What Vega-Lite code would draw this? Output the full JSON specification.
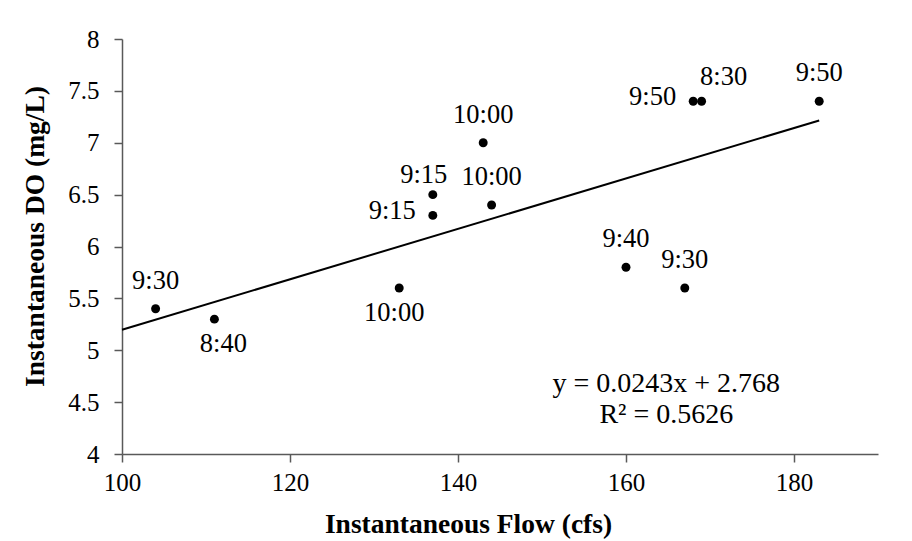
{
  "$schema": "https://vega.github.io/schema/vega-lite/v6.json",
  "width": 756,
  "height": 415,
  "autosize": {"type": "none"},
  "padding": {"left": 122, "top": 39, "right": 34, "bottom": 87},
  "background": "white",
  "config": {"view": {"stroke": null}, "font": "Liberation Serif"},
  "datasets": {
    "obs": [
      {"flow": 104, "oxygen": 5.4, "label": "9:30"},
      {"flow": 111, "oxygen": 5.3, "label": "8:40"},
      {"flow": 133, "oxygen": 5.6, "label": "10:00"},
      {"flow": 137, "oxygen": 6.5, "label": "9:15"},
      {"flow": 137, "oxygen": 6.3, "label": "9:15"},
      {"flow": 143, "oxygen": 7.0, "label": "10:00"},
      {"flow": 144, "oxygen": 6.4, "label": "10:00"},
      {"flow": 160, "oxygen": 5.8, "label": "9:40"},
      {"flow": 167, "oxygen": 5.6, "label": "9:30"},
      {"flow": 168, "oxygen": 7.4, "label": "9:50"},
      {"flow": 169, "oxygen": 7.4, "label": "8:30"},
      {"flow": 183, "oxygen": 7.4, "label": "9:50"}
    ],
    "trend": [
      {"flow": 100, "oxygen": 5.198},
      {"flow": 183, "oxygen": 7.215}
    ],
    "notes": [
      {"flow": 164.8, "oxygen": 4.675, "note": "y = 0.0243x + 2.768"},
      {"flow": 164.8, "oxygen": 4.376, "note": "R² = 0.5626"}
    ]
  },
  "encoding": {
    "x": {
      "field": "flow",
      "type": "quantitative",
      "scale": {"domain": [100, 190], "nice": false, "zero": false},
      "axis": {
        "title": "Instantaneous Flow (cfs)",
        "values": [100, 120, 140, 160, 180],
        "format": "d",
        "grid": false,
        "domainColor": "#595959",
        "domainWidth": 1.5,
        "tickColor": "#595959",
        "tickWidth": 1.5,
        "tickSize": 8,
        "labelFont": "Liberation Serif",
        "labelFontSize": 25,
        "labelColor": "black",
        "labelPadding": 8,
        "labelFlush": false,
        "titleFont": "Liberation Serif",
        "titleFontSize": 27.5,
        "titleFontWeight": "bold",
        "titleColor": "black",
        "titleX": 346,
        "titleY": 78,
        "titleAlign": "center",
        "titleBaseline": "alphabetic"
      }
    },
    "y": {
      "field": "oxygen",
      "type": "quantitative",
      "scale": {"domain": [4, 8], "nice": false, "zero": false},
      "axis": {
        "title": "Instantaneous DO (mg/L)",
        "values": [4, 4.5, 5, 5.5, 6, 6.5, 7, 7.5, 8],
        "format": "~g",
        "grid": false,
        "domainColor": "#595959",
        "domainWidth": 1.5,
        "tickColor": "#595959",
        "tickWidth": 1.5,
        "tickSize": 8,
        "labelFont": "Liberation Serif",
        "labelFontSize": 25,
        "labelColor": "black",
        "labelPadding": 15,
        "labelFlush": false,
        "titleFont": "Liberation Serif",
        "titleFontSize": 27.5,
        "titleFontWeight": "bold",
        "titleColor": "black",
        "titleAngle": 270,
        "titleX": -79,
        "titleY": 197,
        "titleAlign": "center",
        "titleBaseline": "alphabetic"
      }
    }
  },
  "layer": [
    {
      "data": {"name": "trend"},
      "mark": {"type": "line", "color": "black", "strokeWidth": 2},
      "encoding": {}
    },
    {
      "data": {"name": "obs"},
      "mark": {"type": "circle", "color": "black", "size": 80, "opacity": 1},
      "encoding": {}
    },
    {
      "data": {"name": "obs"},
      "transform": [{"filter": {"field": "flow", "oneOf": [104, 143, 144, 160, 167, 183]}}],
      "mark": {"type": "text", "fontSize": 26.5, "font": "Liberation Serif", "color": "black", "align": "center", "baseline": "middle", "dy": -28},
      "encoding": {"text": {"field": "label"}}
    },
    {
      "data": {"name": "obs"},
      "transform": [{"filter": "datum.flow == 137 && datum.oxygen == 6.5"}],
      "mark": {"type": "text", "fontSize": 26.5, "font": "Liberation Serif", "color": "black", "align": "center", "baseline": "middle", "dx": -9, "dy": -20},
      "encoding": {"text": {"field": "label"}}
    },
    {
      "data": {"name": "obs"},
      "transform": [{"filter": {"field": "flow", "oneOf": [111]}}],
      "mark": {"type": "text", "fontSize": 26.5, "font": "Liberation Serif", "color": "black", "align": "center", "baseline": "middle", "dx": 9, "dy": 25},
      "encoding": {"text": {"field": "label"}}
    },
    {
      "data": {"name": "obs"},
      "transform": [{"filter": {"field": "flow", "oneOf": [133]}}],
      "mark": {"type": "text", "fontSize": 26.5, "font": "Liberation Serif", "color": "black", "align": "center", "baseline": "middle", "dx": -5, "dy": 25},
      "encoding": {"text": {"field": "label"}}
    },
    {
      "data": {"name": "obs"},
      "transform": [{"filter": "(datum.flow == 137 && datum.oxygen == 6.3) || datum.flow == 168"}],
      "mark": {"type": "text", "fontSize": 26.5, "font": "Liberation Serif", "color": "black", "align": "right", "baseline": "middle", "dx": -17, "dy": -4},
      "encoding": {"text": {"field": "label"}}
    },
    {
      "data": {"name": "obs"},
      "transform": [{"filter": {"field": "flow", "oneOf": [169]}}],
      "mark": {"type": "text", "fontSize": 26.5, "font": "Liberation Serif", "color": "black", "align": "center", "baseline": "middle", "dx": 22, "dy": -24},
      "encoding": {"text": {"field": "label"}}
    },
    {
      "data": {"name": "notes"},
      "mark": {"type": "text", "fontSize": 28, "font": "Liberation Serif", "color": "black", "align": "center", "baseline": "middle"},
      "encoding": {"text": {"field": "note"}}
    }
  ]
}
